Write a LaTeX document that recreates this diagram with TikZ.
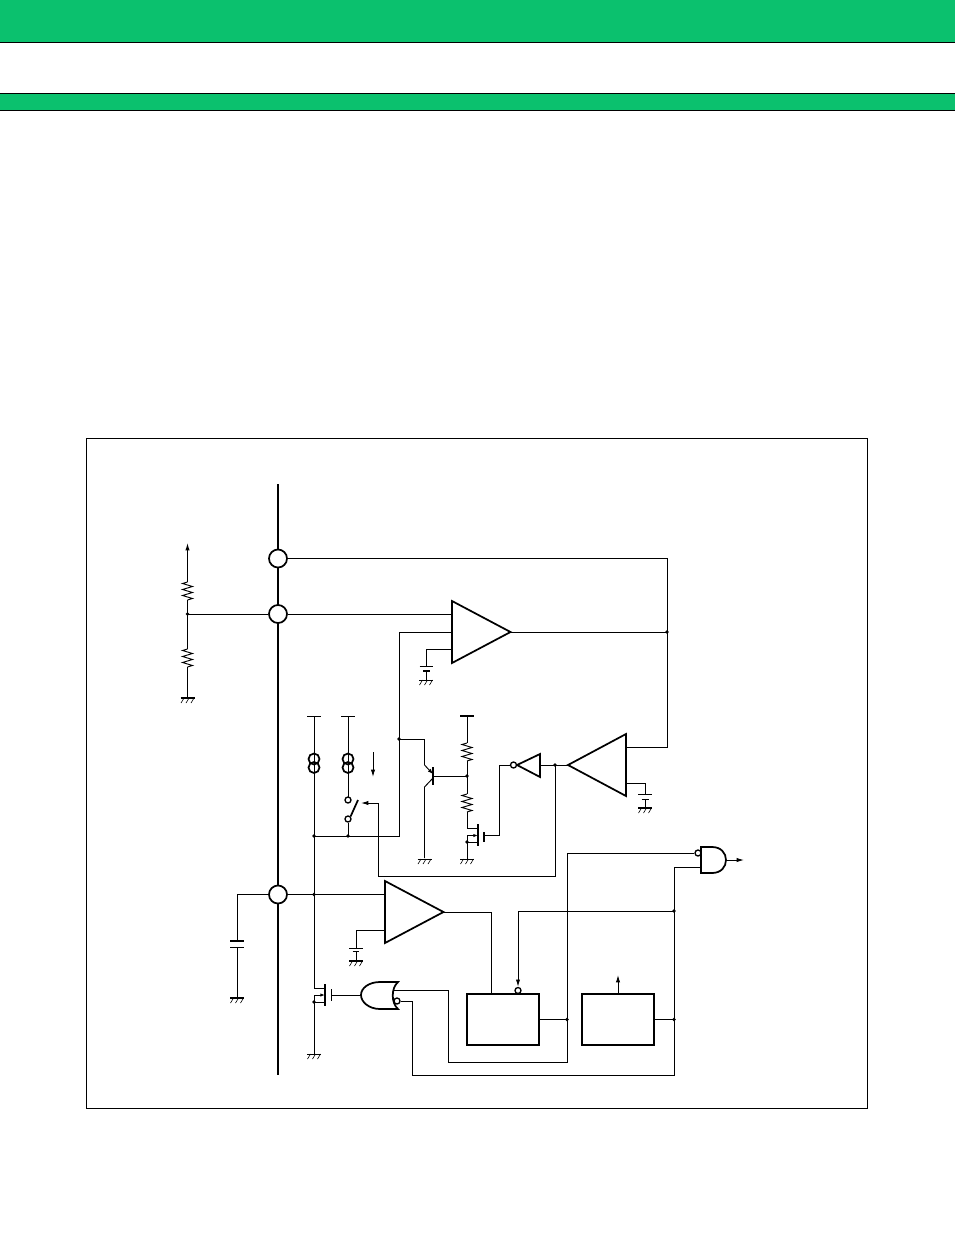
\documentclass[tikz,border=0pt]{standalone}
\usepackage{tikz}
\usetikzlibrary{arrows.meta,calc}
\definecolor{headgreen}{RGB}{11,193,110}
\tikzset{
	wire/.style={line width=0.7pt},
	heavy/.style={line width=1.3pt},
	pad/.style={circle, draw, line width=1.3pt, fill=white, minimum size=13.5pt, inner sep=0pt},
	blockbox/.style={rectangle, draw, line width=1.3pt, minimum width=54pt, minimum height=38.25pt, inner sep=0pt},
	bubble/.style={circle, draw, line width=1pt, fill=white, minimum size=4.5pt, inner sep=0pt},
	tip/.style={-{Latex[length=5.5pt,width=3.2pt]}}
}
\def\jdot(#1){\fill (#1) circle (1.8);}
\def\zigres(#1,#2){\draw[wire] ($(#1,#2)$) -- ++(-5,1.5) -- ++(10,3) -- ++(-10,3) -- ++(10,3) -- ++(-10,3) -- ++(10,3) -- ++(-5,1.5);}
\def\hatchgnd(#1,#2){\foreach \i in {-5,0,5} {\draw[line width=0.45pt] ($(#1,#2)+(\i+1.5,0)$) -- ++(-3,5);}}
\def\thingnd(#1,#2){\draw[wire] ($(#1,#2)+(-7,0)$) -- ++(14,0); \hatchgnd(#1,#2)}
\def\thickgnd(#1,#2){\draw[line width=1.4pt] ($(#1,#2)+(-7,0)$) -- ++(14,0); \hatchgnd(#1,#2)}
\def\capbars(#1,#2){\draw[line width=1.4pt] ($(#1,#2)+(-7,0)$) -- ++(14,0); \draw[wire] ($(#1,#2)+(-7,6)$) -- ++(14,0);}
\begin{document}
\begin{tikzpicture}[x=0.75pt, y=-0.75pt]
	%%%%% START %%%%%
	\useasboundingbox (0,0) rectangle (954,1235);

	% page header
	\draw[fill=headgreen, wire] (-2,-2) rectangle (956,42);
	\draw[fill=headgreen, wire] (-2,93.5) rectangle (956,110);
	\draw[wire] (86,438) rectangle (867,1108);

	% main bus and pads
	\draw[line width=1.4pt] (278,484) -- (278,1075);
	\node[pad] (padA) at (278,558.5) {};
	\node[pad] (padB) at (278,614) {};
	\node[pad] (padC) at (278,894.5) {};

	% blocks
	\node[blockbox] (blockL) at (503,1019.5) {};
	\node[blockbox] (blockR) at (618,1019.5) {};

	% amplifiers
	\draw[heavy] (452,601) -- (510.5,632) -- (452,663) -- cycle;
	\draw[heavy] (626,734) -- (568,765) -- (626,796) -- cycle;
	\draw[heavy] (385,881) -- (443.5,912) -- (385,943) -- cycle;
	\coordinate (ampAout) at (510.5,632);
	\coordinate (ampBout) at (568,765);
	\coordinate (ampCout) at (443.5,912);

	% divider on the left
	\coordinate (divnode) at (187.5,614);
	\coordinate (divtop) at (187.5,543);
	\coordinate (divgnd) at (187.5,698);
	\draw[wire, tip] (divnode) -- (divtop);
	\draw[wire] (divnode) -- (divgnd);
	\draw[wire] (divnode) -- (padB.west);
	\fill[white] (181,582) rectangle (194,600);
	\fill[white] (181,649) rectangle (194,667);
	\zigres(187.5,582)
	\zigres(187.5,649)
	\jdot(divnode)
	\thickgnd(187.5,698)

	% outer loop and first amplifier
	\coordinate (railR) at (667,558.5);
	\coordinate (railRm) at (667,632);
	\coordinate (railRb) at (667,747);
	\coordinate (ampBback) at (626,747);
	\draw[wire] (padA.east) -- (railR) -- (railRb) -- (ampBback);
	\draw[wire] (padB.east) -- (452,614);
	\draw[wire] (ampAout) -- (railRm);
	\jdot(railRm)

	\coordinate (fbtop) at (399,632);
	\coordinate (fbmid) at (399,739);
	\coordinate (fbbot) at (399,836);
	\coordinate (isrcA) at (314,836);
	\coordinate (isrcB) at (348,836);
	\draw[wire] (452,632) -- (fbtop) -- (fbbot) -- (isrcA);
	\jdot(fbmid)
	\jdot(isrcA)
	\jdot(isrcB)

	% reference caps
	\draw[wire] (452,649) -- (426,649) -- (426,666);
	\draw[wire] (419.5,666) -- (433,666);
	\draw[line width=1.5pt] (423,671) -- (430,671);
	\draw[wire] (426,671) -- (426,680);
	\thingnd(426,680)
	\draw[wire] (626,783) -- (645,783) -- (645,794);
	\draw[wire] (638,794) -- (652,794);
	\draw[wire] (641.5,799) -- (649,799);
	\draw[wire] (645,799) -- (645,808);
	\thickgnd(645,808)
	\draw[wire] (385,930) -- (356,930) -- (356,948);
	\draw[wire] (349,948) -- (363,948);
	\draw[wire] (352.5,951.5) -- (359,951.5);
	\draw[wire] (356,951.5) -- (356,961);
	\thickgnd(356,961)

	% current sources and switch
	\draw[wire] (307,716) -- (321,716);
	\draw[wire] (341,716) -- (355,716);
	\draw[wire] (314,716) -- (314,988) -- (325,988);
	\draw[wire] (348,716) -- (348,797);
	\foreach \cx in {314,348} {
		\draw[heavy] (\cx,759) circle (5.5);
		\draw[heavy] (\cx,767.5) circle (5.5);
	}
	\draw[wire, tip] (373,752) -- (373,777);
	\node[bubble] (swA) at (348,800) {};
	\node[bubble] (swB) at (348,819) {};
	\draw[wire] (swB.south) -- (isrcB);
	\draw[heavy] (swB.north east) -- (358,800);
	\coordinate (swdrive) at (361,803);
	\coordinate (swturn) at (378,803);
	\coordinate (fbturn) at (378,876);
	\coordinate (fbinv) at (555,876);
	\coordinate (ampBin) at (555,765);
	\draw[wire, tip] (ampBin) -- (fbinv) -- (fbturn) -- (swturn) -- (swdrive);

	% transistor and lower divider
	\draw[wire] (fbmid) -- (424.5,739) -- (424.5,765);
	\draw[wire, -{Latex[length=4pt,width=3pt]}] (424.5,765) -- (433,774);
	\draw[wire] (433,778) -- (424.5,787) -- (424.5,858);
	\thingnd(424.5,859)
	\draw[heavy] (433,767) -- (433,785);
	\coordinate (basenode) at (467,776);
	\draw[wire] (433,776) -- (basenode);
	\jdot(basenode)
	\draw[line width=1.4pt] (460,716) -- (474,716);
	\draw[wire] (467,716) -- (467,743);
	\zigres(467,743)
	\draw[wire] (467,761) -- (467,794);
	\zigres(467,794)
	\draw[wire] (467,812) -- (467,828) -- (478,828);
	\draw[line width=1.4pt] (478,824) -- (478,846);
	\draw[heavy] (484,832) -- (484,842);
	\draw[wire, -{Latex[length=3.5pt,width=2.5pt]}] (467,835.5) -- (478,835.5);
	\draw[wire] (467,835.5) -- (467,859);
	\draw[wire] (467,842) -- (478,842);
	\jdot(467,842)
	\thingnd(467,859)

	% inverter
	\draw[heavy] (540,754) -- (517,765) -- (540,777) -- cycle;
	\node[bubble] (invb) at (513.5,765) {};
	\draw[wire] (540,765) -- (ampBout);
	\jdot(ampBin)
	\draw[wire] (invb.west) -- (499,765) -- (499,835) -- (484,835);

	% lower amplifier, capacitor
	\coordinate (capnode) at (237,894.5);
	\draw[wire] (padC.west) -- (capnode) -- (237,941);
	\capbars(237,941)
	\draw[wire] (237,947) -- (237,998);
	\thickgnd(237,998)
	\draw[wire] (padC.east) -- (385,894.5);
	\jdot(314,894.5)
	\draw[wire] (ampCout) -- (491,912) -- (491,994);

	% discharge transistor
	\draw[line width=1.4pt] (325,984) -- (325,1006);
	\draw[heavy] (331.5,989) -- (331.5,1001);
	\draw[wire, -{Latex[length=3.5pt,width=2.5pt]}] (314,995) -- (325,995);
	\draw[wire] (314,995) -- (314,1054);
	\draw[wire] (314,1002) -- (325,1002);
	\jdot(314,1002)
	\thingnd(314,1054)
	\draw[wire] (331.5,995) -- (361,995);

	% gates
	\draw[heavy, fill=white] (398,982) -- (380,982) .. controls (369,982) and (361,988) .. (361,995) .. controls (361,1002) and (369,1009) .. (380,1009) -- (398,1009) .. controls (391,1003) and (391,988) .. (398,982) -- cycle;
	\node[bubble] (norb) at (397,1001) {};
	\draw[heavy, fill=white] (701,847) -- (712,847) .. controls (721,847) and (726,853) .. (726,860) .. controls (726,867) and (721,873) .. (712,873) -- (701,873) -- cycle;
	\node[bubble] (andb) at (698,853) {};
	\draw[wire, tip] (726,860) -- (744,860);

	% logic wiring
	\coordinate (railMtop) at (567,853);
	\coordinate (railMjoin) at (567,1019.5);
	\coordinate (railMbot) at (567,1062);
	\coordinate (railEtop) at (674,867);
	\coordinate (railEset) at (674,911);
	\coordinate (railEjoin) at (674,1019.5);
	\coordinate (railEbot) at (674,1075);
	\draw[wire] (393,990) -- (448,990) -- (448,1062) -- (railMbot) -- (railMtop) -- (andb.west);
	\draw[wire] (norb.east) -- (412.5,1001) -- (412.5,1075) -- (railEbot) -- (railEtop) -- (701,867);
	\draw[wire] (blockL.east) -- (railMjoin);
	\draw[wire] (blockR.east) -- (railEjoin);
	\jdot(railMjoin)
	\jdot(railEjoin)
	\jdot(railEset)
	\node[bubble] (setb) at (518,990.5) {};
	\draw[wire, tip] (railEset) -- (518,911) -- (setb.north);
	\draw[wire, tip] (blockR.north) -- (618,975);
	%%%%% END %%%%%
\end{tikzpicture}
\end{document}
